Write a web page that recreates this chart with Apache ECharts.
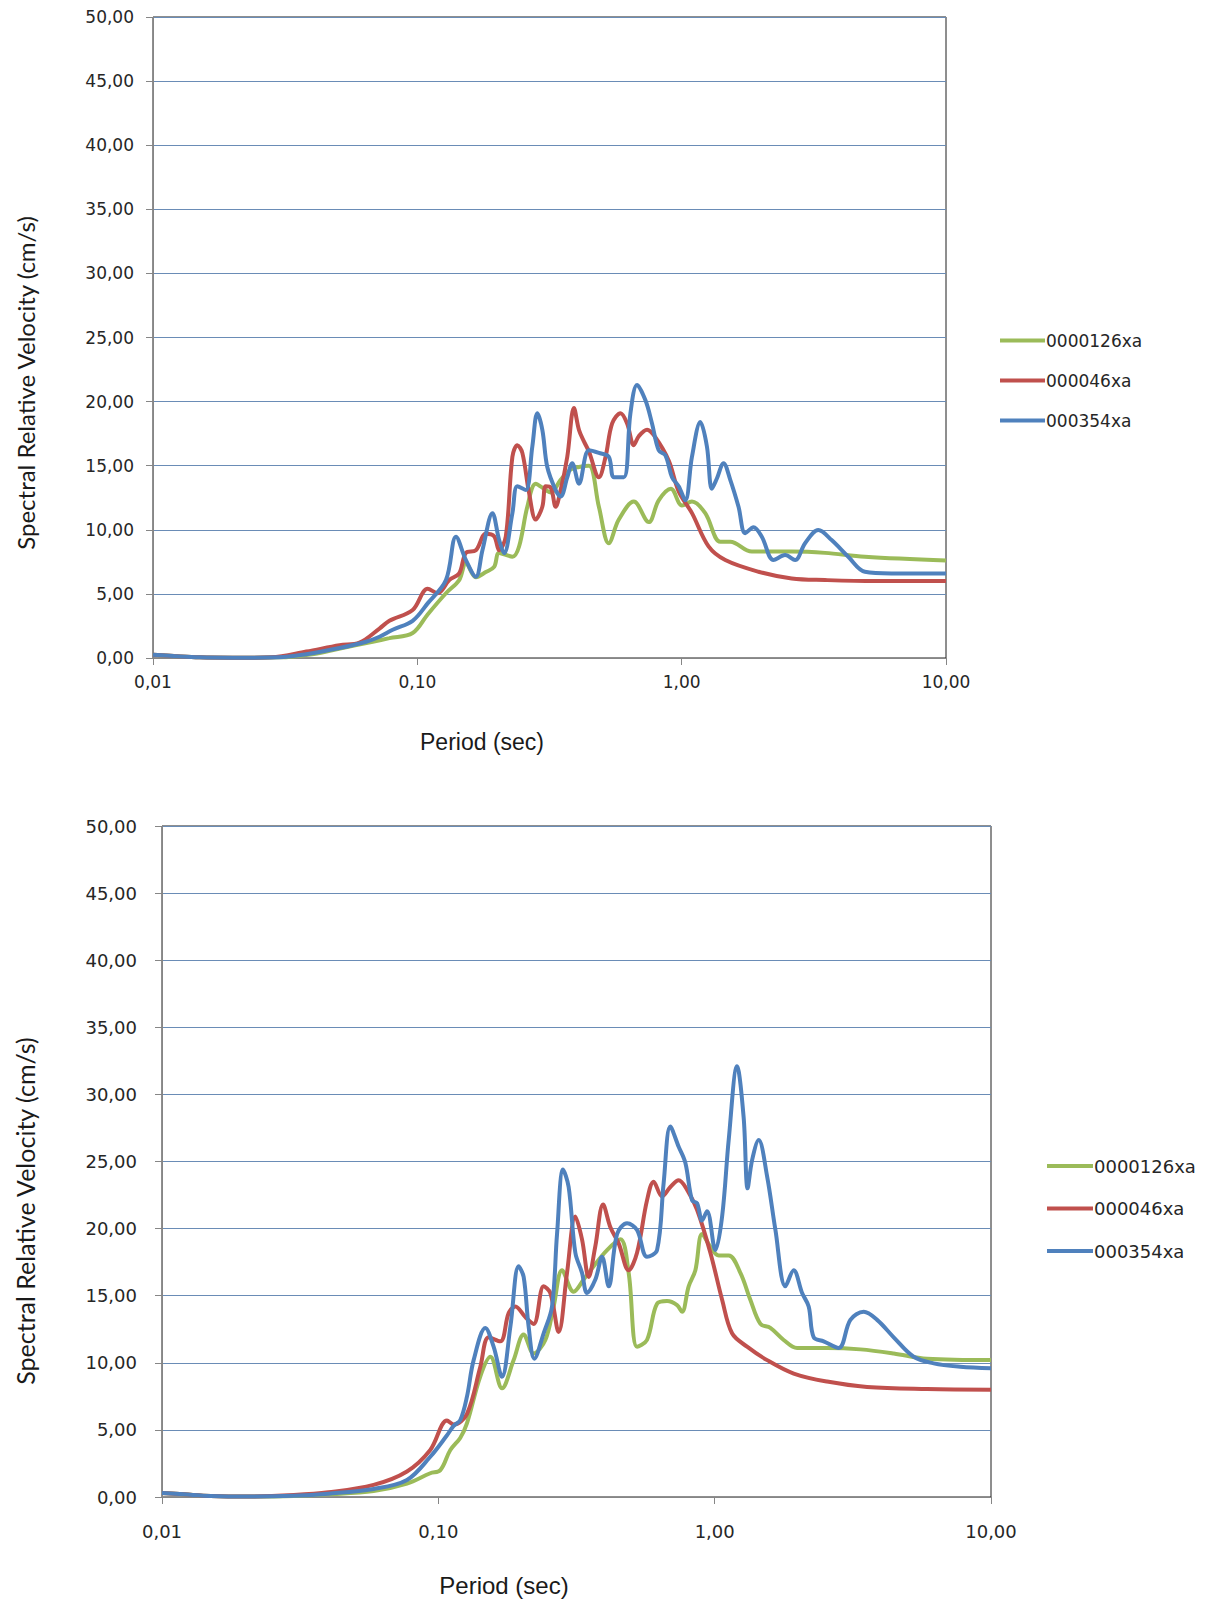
<!DOCTYPE html>
<html>
<head>
<meta charset="utf-8">
<script src="https://cdn.jsdelivr.net/npm/echarts@6/dist/echarts.min.js"></script>
<style>
  html, body { margin: 0; padding: 0; background: #ffffff; }
  #chart { width: 1211px; height: 1603px; }
</style>
</head>
<body>
<div id="chart"></div>
<script>
// ---------- Data ----------
var seriesNames = ['0000126xa', '000046xa', '000354xa'];
var xTickLabels = ['0,01', '0,10', '1,00', '10,00'];
var yTickLabels = ['0,00','5,00','10,00','15,00','20,00','25,00','30,00','35,00','40,00','45,00','50,00'];

// Top chart
var topGreenT = [0.01,0.012,0.015,0.02,0.03,0.04,0.05,0.0678,0.0784,0.096,0.1094,0.1283,0.144,0.1527,0.1665,0.1816,0.1952,0.2039,0.2289,0.2426,0.2607,0.2805,0.3059,0.32,0.3485,0.38,0.4087,0.4458,0.4862,0.53,0.5784,0.6591,0.7508,0.8188,0.9103,1.003,1.094,1.228,1.40,1.527,1.842,2.608,3.485,4.933,10];
var topGreenV = [0.25,0.15,0.05,0.02,0.05,0.3,0.7,1.27,1.55,1.95,3.4,5.05,6.08,7.4,6.3,6.7,7.1,8.2,7.9,8.7,11.8,13.6,13.1,12.9,13.9,14.7,14.9,15.0,11.8,8.95,10.8,12.2,10.6,12.3,13.2,11.9,12.2,11.3,9.07,9.07,8.3,8.3,8.2,7.9,7.6];

var topRedT = [0.01,0.012,0.015,0.02,0.028,0.038,0.0508,0.0604,0.0719,0.0784,0.096,0.1094,0.1193,0.1321,0.144,0.1527,0.1665,0.1816,0.1952,0.2039,0.2162,0.2289,0.239,0.2496,0.2646,0.2805,0.2971,0.3059,0.3196,0.3337,0.3485,0.3692,0.3913,0.4087,0.4268,0.4458,0.4862,0.5154,0.5458,0.5871,0.6217,0.6591,0.6882,0.7398,0.796,0.8931,0.9743,1.094,1.264,1.462,1.953,2.608,3.485,5.382,10];
var topRedV = [0.25,0.15,0.05,0.02,0.05,0.5,1.0,1.2,2.3,2.9,3.74,5.4,5.05,6.08,6.6,8.2,8.4,9.7,9.5,8.4,9.5,15.7,16.6,16.0,12.9,10.8,11.8,13.4,13.3,11.8,13.1,15.7,19.5,17.8,16.9,16.1,14.1,15.7,18.3,19.1,18.3,16.6,17.3,17.8,17.2,15.4,13.0,11.3,8.7,7.64,6.73,6.2,6.08,6.0,6.0];

var topBlueT = [0.01,0.012,0.015,0.02,0.03,0.038,0.0508,0.064,0.0719,0.0807,0.096,0.1094,0.1283,0.14,0.1527,0.1665,0.1764,0.1924,0.2039,0.2129,0.2289,0.239,0.2571,0.2723,0.2844,0.2971,0.3102,0.3337,0.3485,0.3692,0.3855,0.4087,0.4458,0.4862,0.53,0.554,0.604,0.64,0.678,0.7295,0.7724,0.8188,0.868,0.9193,0.9743,1.032,1.094,1.177,1.246,1.301,1.359,1.44,1.527,1.641,1.74,1.87,2.01,2.225,2.462,2.686,2.93,3.289,3.692,4.268,4.933,6.218,10];
var topBlueV = [0.25,0.15,0.05,0.02,0.05,0.3,0.78,1.27,1.66,2.2,2.9,4.26,6.08,9.46,7.64,6.34,8.42,11.3,9.2,8.17,11.3,13.4,13.1,16.5,19.1,17.8,14.9,13.1,12.6,14.1,15.2,13.6,16.2,16.0,15.7,14.1,14.1,19.1,21.3,20.1,18.3,16.2,15.8,14.1,13.4,12.3,15.7,18.4,16.5,13.2,14.0,15.2,13.9,11.8,9.73,10.2,9.46,7.64,8.03,7.64,8.95,9.98,9.2,7.9,6.73,6.6,6.6];

// Bottom chart
var botGreenT = [0.01,0.012,0.015,0.02,0.03,0.04,0.0583,0.077,0.0935,0.1017,0.1105,0.12,0.127,0.1419,0.1543,0.17,0.1873,0.2036,0.2213,0.2439,0.2614,0.2804,0.3088,0.3356,0.3648,0.408,0.4558,0.4884,0.5237,0.569,0.6187,0.6725,0.731,0.7621,0.8052,0.8515,0.9003,0.9648,1.034,1.124,1.239,1.346,1.464,1.59,1.777,1.987,2.552,3.368,4.445,5.871,10];
var botGreenV = [0.3,0.2,0.08,0.03,0.08,0.2,0.45,1.0,1.77,2.0,3.5,4.4,5.5,9.0,10.45,8.1,10.2,12.1,10.7,11.7,14.2,16.9,15.3,16.2,17.2,18.4,19.2,16.7,11.2,11.7,14.4,14.6,14.3,13.8,15.7,16.9,19.6,18.65,18.0,18.0,16.7,14.7,12.9,12.6,11.7,11.1,11.1,11.0,10.7,10.3,10.2];

var botRedT = [0.01,0.012,0.015,0.02,0.03,0.04,0.0583,0.077,0.0935,0.1075,0.1136,0.127,0.1419,0.1521,0.1676,0.1797,0.19,0.2065,0.2213,0.2405,0.2543,0.2725,0.2922,0.3132,0.3311,0.3499,0.37,0.3946,0.4194,0.4494,0.4884,0.5237,0.569,0.6014,0.645,0.6913,0.7409,0.7943,0.8635,0.9648,1.064,1.156,1.31,1.548,1.932,2.552,3.561,5.871,10];
var botRedV = [0.3,0.2,0.08,0.03,0.15,0.35,0.9,1.9,3.5,5.7,5.4,6.2,9.7,11.9,11.6,13.7,14.2,13.4,12.9,15.7,15.2,12.3,16.7,20.9,19.2,16.4,18.7,21.8,20.1,18.9,16.9,18.2,22.1,23.5,22.4,23.1,23.6,22.9,21.4,18.2,14.7,12.2,11.2,10.2,9.2,8.6,8.2,8.05,8.0];

var botBlueT = [0.01,0.012,0.015,0.02,0.03,0.04,0.0583,0.077,0.0935,0.1075,0.1136,0.1201,0.127,0.1342,0.148,0.1585,0.17,0.1823,0.1952,0.2036,0.2122,0.2226,0.2405,0.2579,0.2689,0.2827,0.2962,0.3132,0.3311,0.3452,0.37,0.3913,0.4135,0.4435,0.4819,0.5237,0.569,0.6187,0.6537,0.6913,0.7409,0.7832,0.8285,0.8635,0.9003,0.9386,1.0058,1.064,1.124,1.205,1.273,1.316,1.366,1.443,1.548,1.659,1.803,1.932,2.072,2.189,2.282,2.48,2.811,3.098,3.462,3.871,4.445,5.251,6.203,7.748,10];
var botBlueV = [0.3,0.2,0.08,0.03,0.1,0.25,0.6,1.27,3.0,4.6,5.3,5.74,7.5,10.2,12.6,11.2,8.96,12.7,17.2,16.4,12.7,10.3,12.2,14.2,19.6,24.4,23.1,18.2,16.7,15.2,16.2,17.9,15.7,19.6,20.4,19.9,17.9,18.4,23.4,27.6,26.1,24.9,22.1,21.9,20.6,21.3,18.4,20.9,26.6,32.1,28.3,23.0,25.1,26.6,23.9,19.9,15.7,16.9,15.2,14.2,11.9,11.6,11.1,13.2,13.8,13.2,11.9,10.45,9.96,9.71,9.59];

// ---------- Styles ----------
var colors = ['#9bbb59', '#c0504d', '#4f81bd'];
var axisGray = '#868686';
var gridBlue = '#6a8cb6';
var textDark = '#262626';

function zip(t, v) {
  var out = [];
  for (var i = 0; i < t.length && i < v.length; i++) out.push([t[i], v[i]]);
  return out;
}

function xAxisCfg(gridIndex, fontSize, margin) {
  return {
    gridIndex: gridIndex,
    type: 'log',
    logBase: 10,
    min: 0.01,
    max: 10,
    splitNumber: 3,
    axisLine: { show: true, onZero: false, lineStyle: { color: axisGray, width: 1 } },
    axisTick: { show: true, inside: false, length: 7, lineStyle: { color: axisGray } },
    minorTick: { show: false },
    splitLine: { show: false },
    axisLabel: {
      margin: margin,
      fontFamily: 'DejaVu Sans',
      fontSize: fontSize,
      color: textDark,
      formatter: function (v) {
        var idx = Math.round(Math.log10(v)) + 2;
        return xTickLabels[idx] !== undefined ? xTickLabels[idx] : '';
      }
    }
  };
}

function yAxisCfg(gridIndex, fontSize, margin) {
  return {
    gridIndex: gridIndex,
    type: 'value',
    min: 0,
    max: 50,
    interval: 5,
    axisLine: { show: true, lineStyle: { color: axisGray, width: 1 } },
    axisTick: { show: true, inside: false, length: 7, lineStyle: { color: axisGray } },
    splitLine: { show: true, lineStyle: { color: gridBlue, width: 1 } },
    axisLabel: {
      margin: margin,
      fontFamily: 'DejaVu Sans',
      fontSize: fontSize,
      color: textDark,
      formatter: function (v) {
        var idx = Math.round(v / 5);
        return yTickLabels[idx] !== undefined ? yTickLabels[idx] : '';
      }
    }
  };
}

function lineSeries(name, idx, gridIdx, data) {
  return {
    name: name,
    type: 'line',
    xAxisIndex: gridIdx,
    yAxisIndex: gridIdx,
    data: data,
    showSymbol: false,
    symbol: 'none',
    smooth: 0.35,
    lineStyle: { color: colors[idx], width: 4 },
    itemStyle: { color: colors[idx] },
    emphasis: { disabled: true },
    z: 3 + idx
  };
}

var chart = echarts.init(document.getElementById('chart'), null, { renderer: 'svg', width: 1211, height: 1603 });

var option = {
  backgroundColor: '#ffffff',
  animation: false,
  color: colors,
  grid: [
    { left: 153, top: 17, width: 793, height: 641, show: true, borderColor: '#1e1e1e', borderWidth: 1, backgroundColor: 'transparent', containLabel: false, outerBoundsMode: 'none' },
    { left: 162, top: 826, width: 829, height: 671, show: true, borderColor: '#1e1e1e', borderWidth: 1, backgroundColor: 'transparent', containLabel: false, outerBoundsMode: 'none' }
  ],
  xAxis: [ xAxisCfg(0, 17, 15), xAxisCfg(1, 18, 25) ],
  yAxis: [ yAxisCfg(0, 17, 19), yAxisCfg(1, 18, 25) ],
  legend: [
    {
      data: seriesNames, orient: 'vertical', left: 995, top: 327,
      itemWidth: 45, itemHeight: 4, itemGap: 23, icon: 'rect',
      textStyle: { fontFamily: 'DejaVu Sans', fontSize: 17, color: textDark, padding: [0, 0, 0, -4] },
      selectedMode: false
    },
    {
      data: seriesNames, orient: 'vertical', left: 1042, top: 1152,
      itemWidth: 46, itemHeight: 4, itemGap: 24.5, icon: 'rect',
      textStyle: { fontFamily: 'DejaVu Sans', fontSize: 18, color: textDark, padding: [0, 0, 0, -4] },
      selectedMode: false
    }
  ],
  graphic: [
    { type: 'text', x: 25, y: 383, rotation: Math.PI / 2, style: { text: 'Spectral Relative Velocity (cm/s)', font: '24px Lato', fill: '#1a1a1a', align: 'center', verticalAlign: 'middle' } },
    { type: 'text', x: 482, y: 742, style: { text: 'Period (sec)', font: '23px "Liberation Sans"', fill: '#1a1a1a', align: 'center', verticalAlign: 'middle' } },
    { type: 'text', x: 25, y: 1211, rotation: Math.PI / 2, style: { text: 'Spectral Relative Velocity (cm/s)', font: '25px Lato', fill: '#1a1a1a', align: 'center', verticalAlign: 'middle' } },
    { type: 'text', x: 504, y: 1585, style: { text: 'Period (sec)', font: '24px "Liberation Sans"', fill: '#1a1a1a', align: 'center', verticalAlign: 'middle' } }
  ],
  series: [
    lineSeries(seriesNames[0], 0, 0, zip(topGreenT, topGreenV)),
    lineSeries(seriesNames[1], 1, 0, zip(topRedT, topRedV)),
    lineSeries(seriesNames[2], 2, 0, zip(topBlueT, topBlueV)),
    lineSeries(seriesNames[0], 0, 1, zip(botGreenT, botGreenV)),
    lineSeries(seriesNames[1], 1, 1, zip(botRedT, botRedV)),
    lineSeries(seriesNames[2], 2, 1, zip(botBlueT, botBlueV))
  ]
};

chart.setOption(option);
</script>
</body>
</html>
